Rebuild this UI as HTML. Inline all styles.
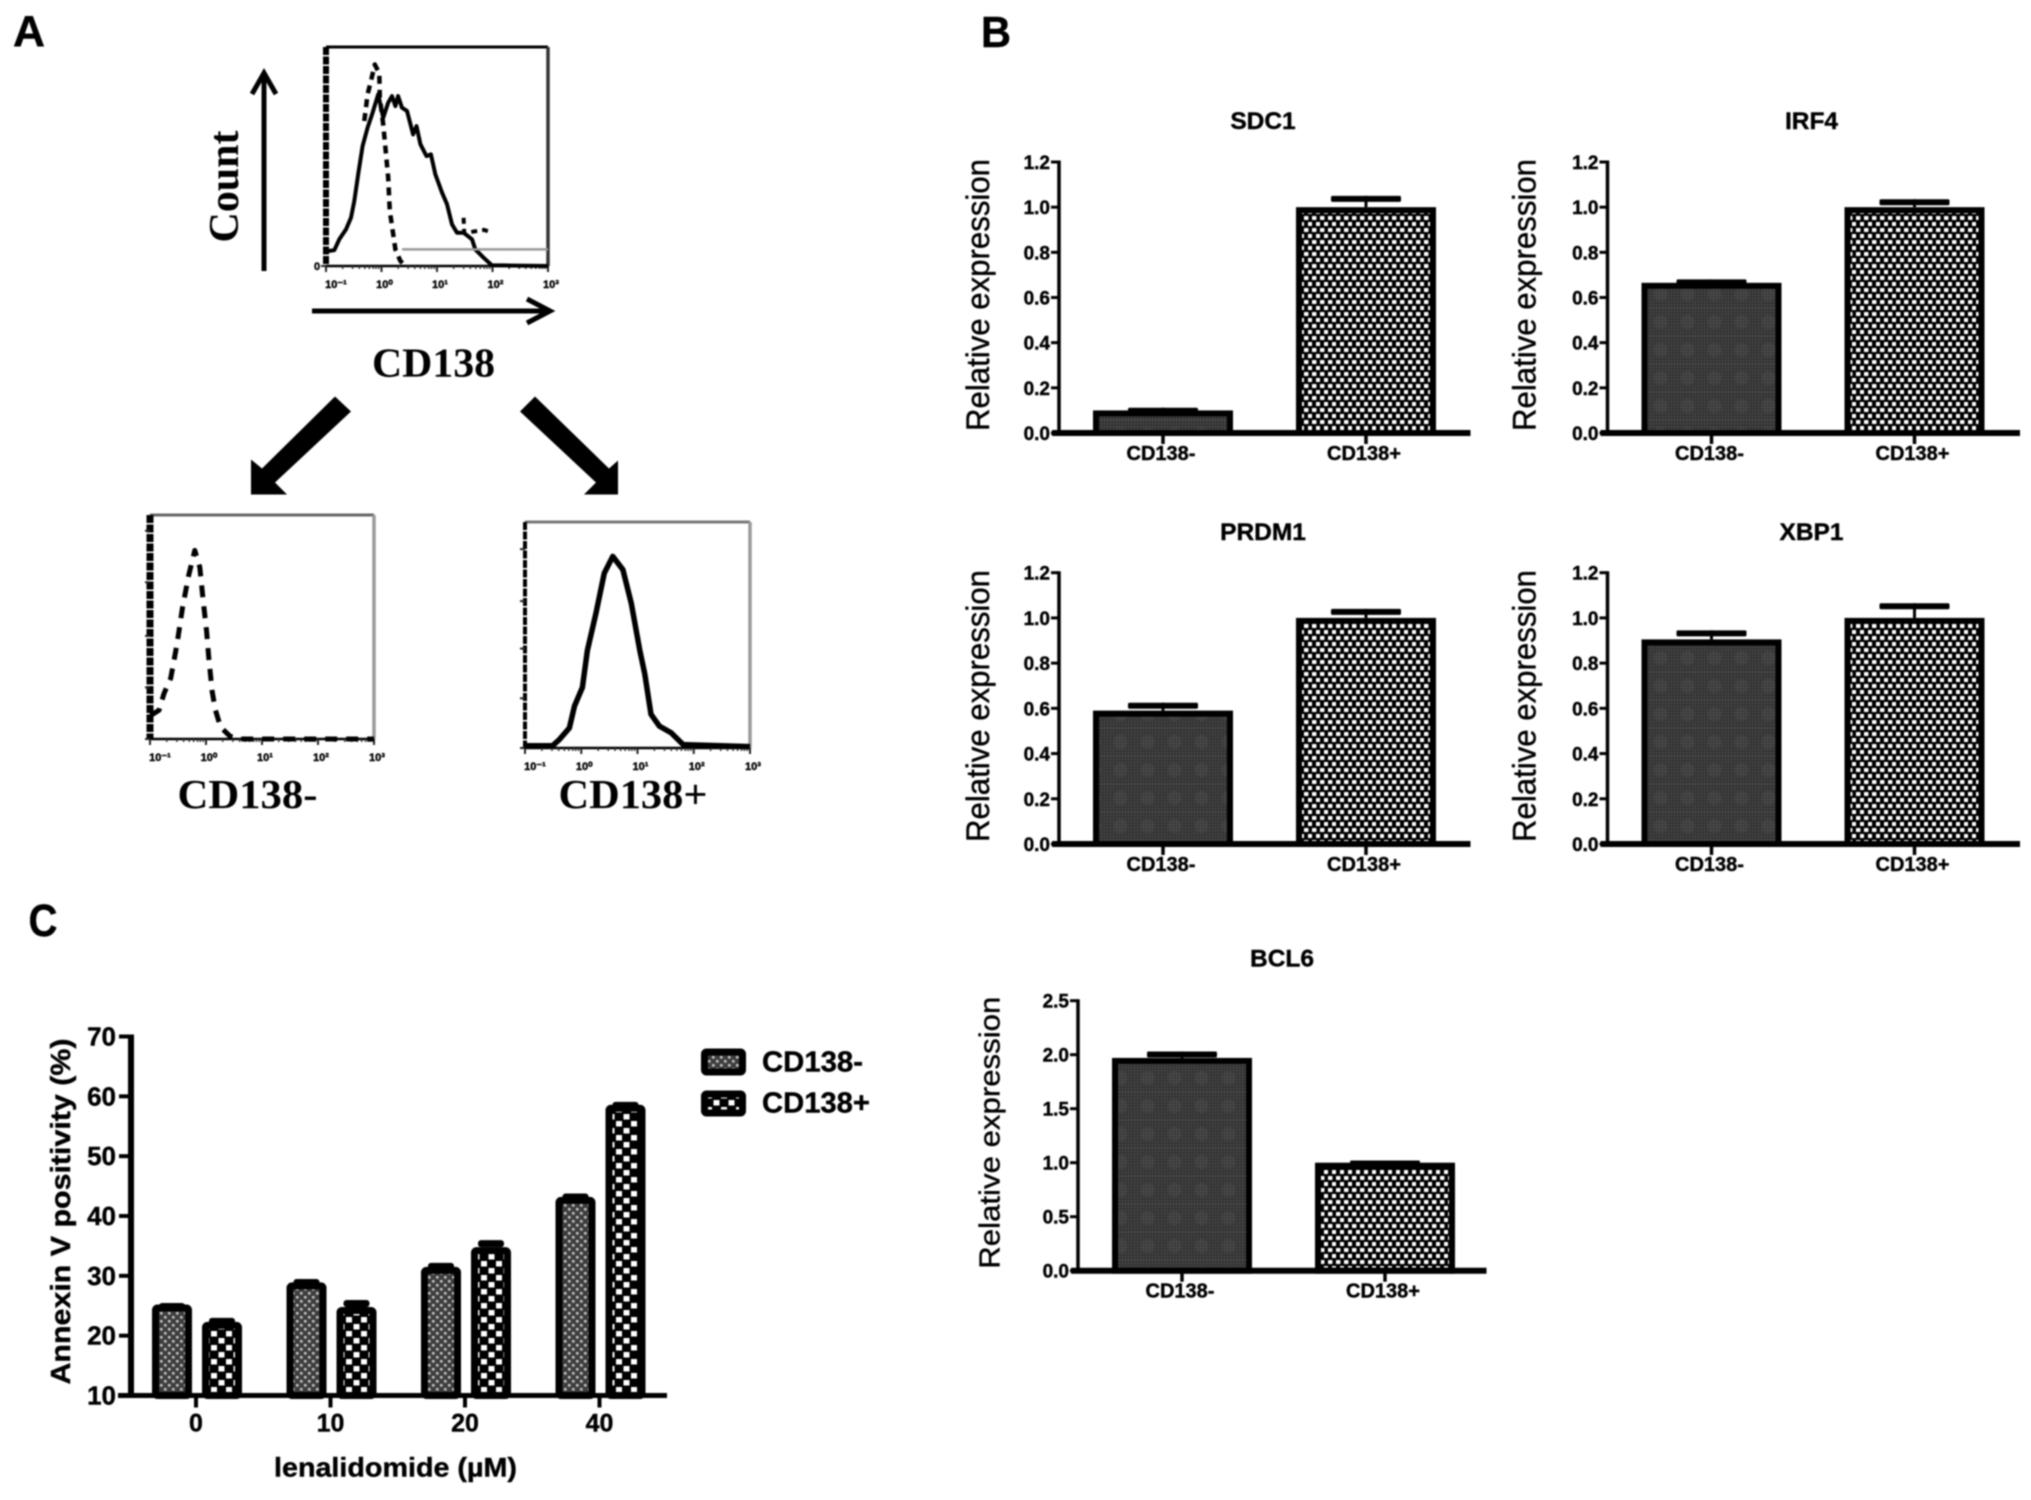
<!DOCTYPE html>
<html lang="en">
<head>
<meta charset="utf-8">
<title>CD138 figure</title>
<style>
html,body{margin:0;padding:0;background:#fff;width:2031px;height:1500px;overflow:hidden}
#figure{display:block;filter:blur(0.7px)}
text{font-family:"Liberation Sans",Arial,sans-serif;fill:#000;stroke:#000;stroke-width:0.4px}
.serif{font-family:"Liberation Serif","Times New Roman",serif;font-weight:bold;stroke-width:0}
.panel{font-weight:bold}
</style>
</head>
<body>
<svg id="figure" xmlns="http://www.w3.org/2000/svg" width="2031" height="1500" viewBox="0 0 2031 1500">
  <defs>
    <pattern id="fineDots" width="3" height="3" patternUnits="userSpaceOnUse">
      <rect width="3" height="3" fill="#333"/>
      <rect width="1.2" height="1.2" fill="#5c5c5c"/>
    </pattern>
    <pattern id="darkB" width="27" height="28" patternUnits="userSpaceOnUse">
      <rect width="27" height="28" fill="url(#fineDots)"/>
      <circle cx="13.5" cy="14" r="7" fill="#888" opacity="0.1"/>
    </pattern>
    <pattern id="lightB" width="8" height="12" patternUnits="userSpaceOnUse">
      <rect width="8" height="12" fill="#000"/>
      <rect x="0" y="0" width="4.4" height="4" fill="#fff"/>
      <rect x="4" y="6" width="4" height="4" fill="#fff"/>
    </pattern>
    <pattern id="darkC" width="8" height="8" patternUnits="userSpaceOnUse">
      <rect width="8" height="8" fill="#3d3d3d"/>
      <rect x="0" y="0" width="2.6" height="2.6" fill="#c4c4c4"/>
      <rect x="4" y="4" width="2.6" height="2.6" fill="#c4c4c4"/>
    </pattern>
    <pattern id="lightC" width="15" height="14" patternUnits="userSpaceOnUse">
      <rect width="15" height="14" fill="#000"/>
      <rect x="1" y="1" width="6" height="5.5" fill="#fff"/>
      <rect x="8.5" y="8" width="6" height="5.5" fill="#fff"/>
    </pattern>
  </defs>

  <text class="panel" x="13" y="46" font-size="44" textLength="32" lengthAdjust="spacingAndGlyphs">A</text>
  <text class="panel" x="981" y="47" font-size="44" textLength="30" lengthAdjust="spacingAndGlyphs">B</text>
  <text class="panel" x="28.5" y="936" font-size="45" textLength="29" lengthAdjust="spacingAndGlyphs">C</text>

  <g fill="none" stroke="#000" stroke-width="5">
    <line x1="264" y1="271" x2="264" y2="74"/>
    <polyline points="252,94 264,73 276,94"/>
  </g>
  <g fill="none" stroke="#000" stroke-width="5">
    <line x1="312" y1="311" x2="549" y2="311"/>
    <polyline points="527,299 550,311 527,323"/>
  </g>
  <text class="serif" transform="translate(238,242.5) rotate(-90)" font-size="42" textLength="112" lengthAdjust="spacingAndGlyphs">Count</text>
  <text class="serif" x="372" y="376.5" font-size="41" textLength="123" lengthAdjust="spacingAndGlyphs">CD138</text>
  <polygon points="335,396.5 351,411.5 275,482.5 287,494.5 251,494.5 251,459.5 262,468.5" fill="#000"/>
  <polygon points="535,396.5 520,411.5 596,482.5 584,494.5 618,494.5 618,460.5 609,468.5" fill="#000"/>
  <text class="serif" x="177.5" y="808" font-size="41" textLength="140" lengthAdjust="spacingAndGlyphs">CD138-</text>
  <text class="serif" x="558.5" y="808" font-size="41" textLength="149" lengthAdjust="spacingAndGlyphs">CD138+</text>

  <g id="legend">
    <g>
      <rect x="704.5" y="1052" width="38" height="20" rx="2" fill="url(#darkC)" stroke="#000" stroke-width="7"/>
      <text x="762" y="1071.5" font-size="29" font-weight="bold" textLength="101" lengthAdjust="spacingAndGlyphs">CD138-</text>
    </g>
    <g>
      <rect x="704.5" y="1094" width="38" height="19" rx="2" fill="url(#lightC)" stroke="#000" stroke-width="7"/>
      <text x="762" y="1112.5" font-size="29" font-weight="bold" textLength="108" lengthAdjust="spacingAndGlyphs">CD138+</text>
    </g>
  </g>
</svg>

<script>
// ---- Panel B data ----
const expressionCategories = ['CD138-', 'CD138+'];
const expressionTicks = [0, 0.2, 0.4, 0.6, 0.8, 1.0, 1.2];
const expressionTickLabels = ['0.0', '0.2', '0.4', '0.6', '0.8', '1.0', '1.2'];
const bcl6Ticks = [0, 0.5, 1.0, 1.5, 2.0, 2.5];
const bcl6TickLabels = ['0.0', '0.5', '1.0', '1.5', '2.0', '2.5'];
const sdc1Values = [0.10, 1.00];
const sdc1Errors = [0.012, 0.05];
const irf4Values = [0.665, 1.00];
const irf4Errors = [0.015, 0.035];
const prdm1Values = [0.59, 1.00];
const prdm1Errors = [0.035, 0.04];
const xbp1Values = [0.905, 1.00];
const xbp1Errors = [0.04, 0.065];
const bcl6Values = [1.97, 1.00];
const bcl6Errors = [0.06, 0.02];

// ---- Panel C data ----
const lenalidomideDoses = ['0', '10', '20', '40'];
const annexinTicks = [10, 20, 30, 40, 50, 60, 70];
const annexinTickLabels = ['10', '20', '30', '40', '50', '60', '70'];
const annexinNegative = [25.2, 28.9, 31.5, 43.2];
const annexinNegativeErrors = [0.1, 0.4, 0.5, 0.4];
const annexinPositive = [22.3, 24.8, 34.8, 58.6];
const annexinPositiveErrors = [0.5, 1.0, 1.0, 0.3];

// ---- Panel A histograms: log10 intensity and percent of full scale ----
const decadeTicks = [-1, 0, 1, 2, 3];
const decadeLabels = ['10⁻¹', '10⁰', '10¹', '10²', '10³'];
const minorDecadeSteps = [0.3, 0.48, 0.6, 0.7, 0.78, 0.85, 0.9, 0.95];
const gatedSolidLog = [-0.97,-0.85,-0.76,-0.64,-0.55,-0.49,-0.42,-0.34,-0.25,-0.16,-0.06,0.03,0.12,0.19,0.25,0.30,0.37,0.46,0.57,0.63,0.70,0.81,0.89,0.97,1.09,1.18,1.27,1.36,1.48,1.63,1.69,1.84,1.99,3];
const gatedSolidCount = [6.8,7.2,12.2,16.7,22.1,29.7,41.9,54.8,63.2,70,78.4,67.7,74.6,77.6,73,77.6,72.3,70.8,60.1,63.9,55.6,50.2,51,41.9,33.5,28.2,19,15.2,15.2,12.2,7.6,3.8,0.3,0];
const gatedDashedLog = [-0.31,-0.25,-0.19,-0.12,-0.04,-0.03,0.03,0.07,0.12,0.15,0.21,0.25,0.34,0.43];
const gatedDashedCount = [66.2,78.4,84.5,92,88,76.9,64.7,54,40.3,25.1,14.5,7.6,2.3,0];
const gatedTailLog = [1.48,1.49,1.60,1.72,1.85,1.99];
const gatedTailCount = [22,15.2,15.5,16,16.5,15.2];
const negativeLog = [-0.99,-0.84,-0.75,-0.63,-0.52,-0.42,-0.31,-0.2,-0.11,-0.05,0.01,0.05,0.11,0.17,0.26,0.43,0.61,3];
const negativeCount = [10.5,12.8,20.3,27.1,42.1,58.6,72.9,84.2,76.7,61.7,48.1,36.1,21.1,12.8,5.3,1.2,0,0];
const positiveLog = [-0.99,-0.51,-0.39,-0.21,-0.12,0.02,0.11,0.26,0.41,0.56,0.74,0.89,1.04,1.13,1.24,1.39,1.6,1.81,3];
const positiveCount = [1,1,3.7,8.9,18.6,26.8,43.2,59.5,77.4,84.8,78.9,64,43.2,32.7,14.9,9.7,6.7,1.5,0.6];
const negativeCountTicks = [0, 23, 46, 70, 93];
const positiveCountTicks = [0, 22, 44, 65, 88];

const svgNS = 'http://www.w3.org/2000/svg';
const figure = document.getElementById('figure');

function make(tag, attrs, parent) {
  const node = document.createElementNS(svgNS, tag);
  for (const key in attrs) node.setAttribute(key, attrs[key]);
  parent.appendChild(node);
  return node;
}

function linearScale(d0, d1, r0, r1) {
  return function (v) { return r0 + (v - d0) / (d1 - d0) * (r1 - r0); };
}

// ---- Expression bar charts ----
function drawExpressionPanel(cfg) {
  const panel = make('g', {}, figure);
  
  
  const y = linearScale(0, cfg.yMax, cfg.y0, cfg.yTop);
  const barX = function (i) { return cfg.axisX + 34 + i * 203; };
  const barW = 140;

  const title = make('text', { x: cfg.axisX + 204, y: cfg.y0 - 304, 'font-size': 24.5, 'font-weight': 'bold', 'text-anchor': 'middle' }, panel);
  title.textContent = cfg.title;
  
  

  const yTitle = make('text', { transform: 'translate(' + (cfg.axisX - cfg.labelGap) + ',' + (cfg.y0 - 2) + ') rotate(-90)', 'font-size': cfg.labelSize, textLength: 272, lengthAdjust: 'spacingAndGlyphs' }, panel);
  yTitle.textContent = 'Relative expression';
  
  

  cfg.values.forEach(function (value, i) {
    const cx = barX(i) + barW / 2;
    const series = i === 0 ? 'negative' : 'positive';
    const stem = make('line', { x1: cx, x2: cx, y1: y(value), y2: y(value + cfg.errors[i]), stroke: '#000', 'stroke-width': 3 }, panel);
    
    
    const cap = make('rect', { x: cx - 35, y: y(value + cfg.errors[i]), width: 70, height: 6, rx: 1.5, fill: '#000' }, panel);
    
    
    const bar = make('rect', { x: barX(i) + 3, y: y(value) + 3, width: barW - 6, height: Math.max(0, cfg.y0 - y(value) - 3), fill: i === 0 ? 'url(#darkB)' : 'url(#lightB)', stroke: '#000', 'stroke-width': 6 }, panel);
    
    
    const tick = make('line', { x1: cx, x2: cx, y1: cfg.y0, y2: cfg.y0 + 11, stroke: '#000', 'stroke-width': 3.5 }, panel);
    
    
    const label = make('text', { x: cx - 2, y: cfg.y0 + 27, 'font-size': 20, 'font-weight': 'bold', 'text-anchor': 'middle' }, panel);
    label.textContent = expressionCategories[i];
    
    
  });

  const yAxis = make('line', { x1: cfg.axisX, x2: cfg.axisX, y1: cfg.yTop - 1.5, y2: cfg.y0, stroke: '#000', 'stroke-width': 3.5 }, panel);
  
  
  const xAxis = make('line', { x1: cfg.axisX - 7, x2: cfg.axisX + cfg.axisLen, y1: cfg.y0, y2: cfg.y0, stroke: '#000', 'stroke-width': 6 }, panel);
  
  

  cfg.ticks.forEach(function (t, i) {
    const tick = make('line', { x1: cfg.axisX - 8, x2: cfg.axisX, y1: y(t), y2: y(t), stroke: '#000', 'stroke-width': 3 }, panel);
    
    
    const label = make('text', { x: cfg.axisX - 9, y: y(t) + 7, 'font-size': 19, 'font-weight': 'bold', 'text-anchor': 'end' }, panel);
    label.textContent = cfg.tickLabels[i];
    
    
  });
}

drawExpressionPanel({ key: 'sdc1', title: 'SDC1', values: sdc1Values, errors: sdc1Errors, ticks: expressionTicks, tickLabels: expressionTickLabels, yMax: 1.2, axisX: 1059, axisLen: 411.5, y0: 433, yTop: 162, labelGap: 70, labelSize: 32 });
drawExpressionPanel({ key: 'irf4', title: 'IRF4', values: irf4Values, errors: irf4Errors, ticks: expressionTicks, tickLabels: expressionTickLabels, yMax: 1.2, axisX: 1607.5, axisLen: 412.5, y0: 433, yTop: 162, labelGap: 72, labelSize: 32 });
drawExpressionPanel({ key: 'prdm1', title: 'PRDM1', values: prdm1Values, errors: prdm1Errors, ticks: expressionTicks, tickLabels: expressionTickLabels, yMax: 1.2, axisX: 1059, axisLen: 411.5, y0: 844, yTop: 572.7, labelGap: 70, labelSize: 32 });
drawExpressionPanel({ key: 'xbp1', title: 'XBP1', values: xbp1Values, errors: xbp1Errors, ticks: expressionTicks, tickLabels: expressionTickLabels, yMax: 1.2, axisX: 1607.5, axisLen: 412.5, y0: 844, yTop: 572.7, labelGap: 72, labelSize: 32 });
drawExpressionPanel({ key: 'bcl6', title: 'BCL6', values: bcl6Values, errors: bcl6Errors, ticks: bcl6Ticks, tickLabels: bcl6TickLabels, yMax: 2.5, axisX: 1078, axisLen: 408.5, y0: 1270.7, yTop: 1000.7, labelGap: 78.5, labelSize: 29 });

// ---- Annexin V grouped bar chart ----
(function drawAnnexin() {
  const panel = make('g', {}, figure);
  
  
  const axisX = 131, y0 = 1395.5, yTop = 1036.5;
  const y = linearScale(10, 70, y0, yTop);
  const groupX = function (i) { return 196 + i * 134.5; };
  const barW = 40;

  function drawBar(value, err, left, fill, name) {
    const cx = left + barW / 2;
    const cap = make('rect', { x: cx - 13, y: y(value + err) - 1, width: 26, height: 7, rx: 3, fill: '#000' }, panel);
    
    
    const bar = make('rect', { x: left + 3.5, y: y(value) + 3.5, width: barW - 7, height: y0 - y(value) - 3.5, rx: 2, fill: fill, stroke: '#000', 'stroke-width': 7 }, panel);
    
    
  }

  lenalidomideDoses.forEach(function (dose, i) {
    drawBar(annexinNegative[i], annexinNegativeErrors[i], groupX(i) - 44, 'url(#darkC)', 'annexin-bar-negative-' + dose);
    drawBar(annexinPositive[i], annexinPositiveErrors[i], groupX(i) + 6, 'url(#lightC)', 'annexin-bar-positive-' + dose);
    const tick = make('line', { x1: groupX(i), x2: groupX(i), y1: y0, y2: y0 + 12, stroke: '#000', 'stroke-width': 4 }, panel);
    
    
    const label = make('text', { x: groupX(i), y: y0 + 36, 'font-size': 25, 'font-weight': 'bold', 'text-anchor': 'middle' }, panel);
    label.textContent = dose;
    
    
  });

  const yAxis = make('line', { x1: axisX, x2: axisX, y1: yTop - 2, y2: y0, stroke: '#000', 'stroke-width': 6 }, panel);
  
  
  const xAxis = make('line', { x1: axisX - 13, x2: 667, y1: y0, y2: y0, stroke: '#000', 'stroke-width': 5 }, panel);
  
  

  annexinTicks.forEach(function (t, i) {
    const tick = make('line', { x1: axisX - 12, x2: axisX, y1: y(t), y2: y(t), stroke: '#000', 'stroke-width': 4 }, panel);
    
    
    const label = make('text', { x: axisX - 15, y: y(t) + 9, 'font-size': 26, 'font-weight': 'bold', 'text-anchor': 'end' }, panel);
    label.textContent = annexinTickLabels[i];
    
    
  });

  const yTitle = make('text', { transform: 'translate(70,1384.5) rotate(-90)', 'font-size': 28, 'font-weight': 'bold', textLength: 346, lengthAdjust: 'spacingAndGlyphs' }, panel);
  yTitle.textContent = 'Annexin V positivity (%)';
  
  
  const xTitle = make('text', { x: 274, y: 1476.5, 'font-size': 27, 'font-weight': 'bold', textLength: 243, lengthAdjust: 'spacingAndGlyphs' }, panel);
  xTitle.textContent = 'lenalidomide (µM)';
  
  
})();

// ---- Flow cytometry histograms ----
function drawHistogram(cfg) {
  const panel = make('g', {}, figure);
  
  
  const x = linearScale(-1, 3, cfg.left, cfg.right);
  const y = linearScale(0, 100, cfg.bottom, cfg.top);

  const frameTop = make('line', { x1: cfg.left, x2: cfg.right, y1: cfg.top, y2: cfg.top, stroke: cfg.frameColor, 'stroke-width': 3 }, panel);
  
  
  const frameRight = make('line', { x1: cfg.right, x2: cfg.right, y1: cfg.top, y2: cfg.bottom, stroke: cfg.rightColor, 'stroke-width': 3.5 }, panel);
  
  
  const frameLeft = make('line', { x1: cfg.left, x2: cfg.left, y1: cfg.top, y2: cfg.bottom, stroke: '#000', 'stroke-width': cfg.leftWidth, 'stroke-dasharray': '8 1.5' }, panel);
  
  
  const frameBottom = make('line', { x1: cfg.left, x2: cfg.right, y1: cfg.bottom, y2: cfg.bottom, stroke: '#000', 'stroke-width': 2.5 }, panel);
  
  

  decadeTicks.forEach(function (d, i) {
    const tick = make('line', { x1: x(d), x2: x(d), y1: cfg.bottom, y2: cfg.bottom + 6, stroke: '#222', 'stroke-width': 2 }, panel);
    
    
    const label = make('text', { x: x(d) + (i === 0 ? 10 : 3), y: cfg.bottom + 22, 'font-size': 11, 'font-weight': 'bold', 'text-anchor': 'middle', fill: '#333' }, panel);
    label.textContent = decadeLabels[i];
    
    
    if (i < decadeTicks.length - 1) {
      minorDecadeSteps.forEach(function (step) {
        const minor = make('line', { x1: x(d + step), x2: x(d + step), y1: cfg.bottom, y2: cfg.bottom + 3, stroke: '#333', 'stroke-width': 1.5 }, panel);
        
        
      });
    }
  });

  cfg.countTicks.forEach(function (c) {
    const tick = make('line', { x1: cfg.left - 5, x2: cfg.left, y1: y(c), y2: y(c), stroke: '#222', 'stroke-width': 2 }, panel);
    
    
  });

  cfg.series.forEach(function (s) {
    const d = s.log.map(function (v, i) { return (i ? 'L' : 'M') + x(v).toFixed(1) + ' ' + y(s.count[i]).toFixed(1); }).join(' ');
    const line = make('path', { d: d, fill: 'none', stroke: '#000', 'stroke-width': s.width, 'stroke-dasharray': s.dash || 'none', 'stroke-linejoin': 'round' }, panel);
    
    
  });
}

drawHistogram({
  key: 'gated', left: 326, right: 548, top: 47, bottom: 266, frameColor: '#000', rightColor: '#333', leftWidth: 6,
  countTicks: [0],
  series: [
    { name: 'gated-solid-curve', log: gatedSolidLog, count: gatedSolidCount, width: 4 },
    { name: 'gated-dashed-curve', log: gatedDashedLog, count: gatedDashedCount, width: 4.5, dash: '8 6' },
    { name: 'gated-dashed-tail', log: gatedTailLog, count: gatedTailCount, width: 4, dash: '6 5' }
  ]
});
drawHistogram({
  key: 'negative', left: 150, right: 374, top: 515, bottom: 739, frameColor: '#666', rightColor: '#999', leftWidth: 7,
  countTicks: negativeCountTicks,
  series: [{ name: 'negative-dashed-curve', log: negativeLog, count: negativeCount, width: 5, dash: '12 9' }]
});
drawHistogram({
  key: 'positive', left: 525, right: 750, top: 522, bottom: 748, frameColor: '#777', rightColor: '#999', leftWidth: 4,
  countTicks: positiveCountTicks,
  series: [{ name: 'positive-solid-curve', log: positiveLog, count: positiveCount, width: 5.5 }]
});

// gate bar on the top histogram, positioned on the same axes
const gateLowLog = 0.37;
const gateHighLog = 3;
const gateLevelCount = 7.6;
(function drawGate() {
  const x = linearScale(-1, 3, 326, 548);
  const y = linearScale(0, 100, 266, 47);
  const gate = make('line', { x1: x(gateLowLog), x2: x(gateHighLog), y1: y(gateLevelCount), y2: y(gateLevelCount), stroke: '#999', 'stroke-width': 2.5 }, figure);
  
  
  const zeroLabel = make('text', { x: 314, y: 270, 'font-size': 11, 'font-weight': 'bold', fill: '#333' }, figure);
  zeroLabel.textContent = '0';
  
  
})();
</script>
</body>
</html>
